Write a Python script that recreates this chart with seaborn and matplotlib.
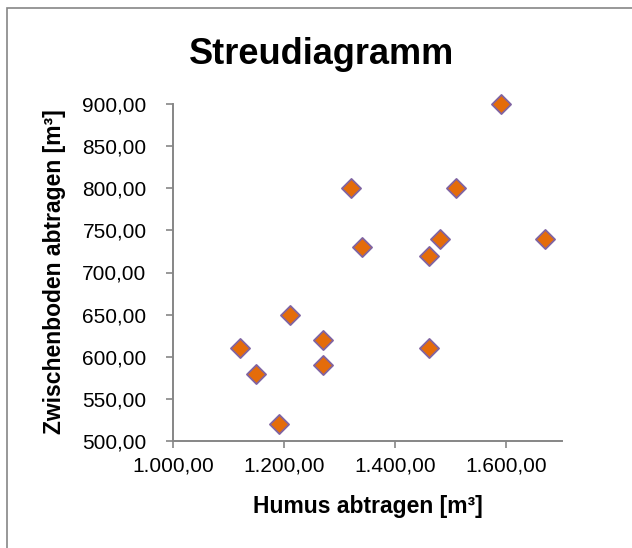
import pandas as pd
import matplotlib
matplotlib.use("Agg")
import matplotlib.pyplot as plt
import seaborn as sns
from matplotlib.ticker import FuncFormatter, MultipleLocator
from matplotlib.patches import Rectangle

# Data
humus = [1590, 1320, 1510, 1340, 1480, 1460, 1670, 1210, 1270, 1270, 1120, 1150, 1190, 1460]
zwischenboden = [900, 800, 800, 730, 740, 720, 740, 650, 620, 590, 610, 580, 520, 610]

df = pd.DataFrame({"humus": humus, "zwischenboden": zwischenboden})

sns.set_theme(style="white")
plt.rcParams['font.family'] = ['Liberation Sans', 'DejaVu Sans']
plt.rcParams['text.color'] = 'black'

W, H = 632, 548
fig = plt.figure(figsize=(W / 100, H / 100), dpi=100)
ax = fig.add_axes([173 / W, 1 - 441 / H, (562 - 173) / W, (441 - 104) / H])

sns.scatterplot(data=df, x="humus", y="zwischenboden", ax=ax, marker="D", s=95,
                color="#E46C0A", edgecolor="#8064A2", linewidth=1.3, zorder=3,
                clip_on=False)

ax.set_xlim(1000, 1700)
ax.set_ylim(500, 900)
ax.xaxis.set_major_locator(MultipleLocator(200))
ax.yaxis.set_major_locator(MultipleLocator(50))


def de_fmt(v, pos):
    s = f"{v:,.2f}"
    return s.replace(",", "X").replace(".", ",").replace("X", ".")


ax.xaxis.set_major_formatter(FuncFormatter(de_fmt))
ax.yaxis.set_major_formatter(FuncFormatter(de_fmt))

gray = "#868686"
for side in ["top", "right"]:
    ax.spines[side].set_visible(False)
for side in ["left", "bottom"]:
    ax.spines[side].set_color(gray)
    ax.spines[side].set_linewidth(1.4)

ax.tick_params(axis="both", direction="out", length=5, width=1.2, color=gray,
               labelsize=15, labelcolor="black", bottom=True, left=True)
ax.tick_params(axis="y", pad=14)
ax.tick_params(axis="x", pad=6)
ax.set_xlabel("")
ax.set_ylabel("")
ax.grid(False)

fig.text(322 / W, 1 - 64 / H, "Streudiagramm", ha="center", va="baseline",
         fontsize=26, fontweight="bold", color="black")
fig.text(368 / W, 1 - 513 / H, "Humus abtragen [m³]", ha="center", va="baseline",
         fontsize=16.5, fontweight="bold", color="black")
fig.text(55 / W, 1 - 272 / H, "Zwischenboden abtragen [m³]", ha="center", va="center",
         rotation=90, fontsize=16.5, fontweight="bold", color="black")

# outer chart border (cut off at right and bottom)
fig.patches.append(Rectangle((7 / W, -0.1), 1.2, 1 - 7.5 / H + 0.1,
                             transform=fig.transFigure, fill=False,
                             edgecolor=gray, linewidth=1.2))

fig.savefig("out.png", dpi=100)
